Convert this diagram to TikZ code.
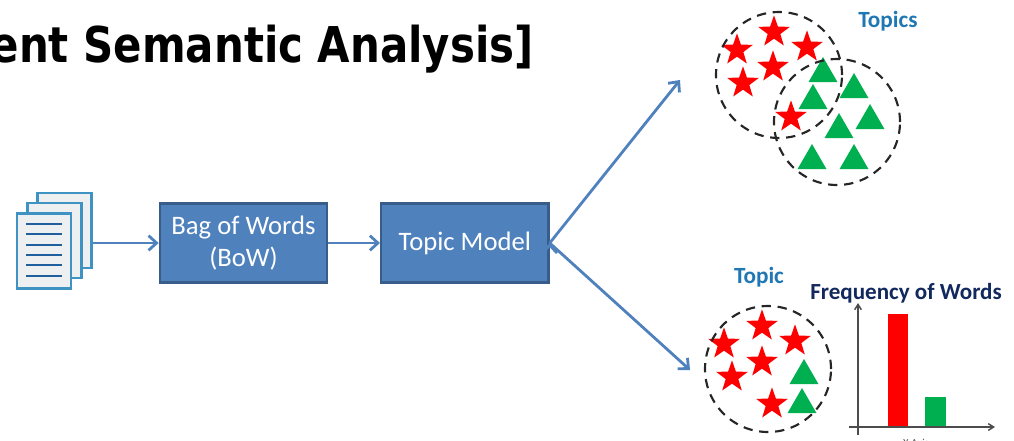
\documentclass[tikz,border=0pt]{standalone}
\usepackage{fontspec}
\setmainfont{Carlito}
\newfontfamily\headfont[FakeStretch=0.85]{DejaVu Sans}
\usetikzlibrary{positioning,shapes.geometric,arrows.meta}

\definecolor{boxblue}{HTML}{4F81BD}
\definecolor{boxedge}{HTML}{385D8A}
\definecolor{labelblue}{HTML}{1F77B4}
\definecolor{navy}{HTML}{12295E}
\definecolor{markgreen}{HTML}{00B050}
\definecolor{pagefill}{HTML}{EDEFF1}
\definecolor{pageedge}{HTML}{3F93C2}
\definecolor{pageline}{HTML}{1F5F9E}

\tikzset{
  model/.style={draw=boxedge,line width=1.8pt,fill=boxblue,text=white,align=center,
    minimum width=125.5pt,minimum height=59pt,inner sep=0pt,font=\fontsize{20}{23.5}\selectfont},
  page/.style={draw=pageedge,line width=1.8pt,fill=pagefill,minimum width=40.5pt,minimum height=56pt,inner sep=0pt},
  cluster/.style={circle,draw=black!85,line width=1.6pt,dash pattern=on 7pt off 5pt,minimum size=94.5pt,inner sep=0pt},
  redstar/.style={star,star points=5,star point ratio=2.5,fill=red,minimum size=25pt,inner sep=0pt},
  greentri/.style={regular polygon,regular polygon sides=3,fill=markgreen,minimum size=25pt,inner sep=0pt},
  tag/.style={text=labelblue,font=\fontsize{17.4}{20}\selectfont\bfseries,inner sep=0pt},
  flow/.style={-{Straight Barb[length=6pt,width=11pt]},draw=boxblue,line width=2.1pt},
  axis/.style={-{Straight Barb[length=4pt,width=5pt]},draw=black!70,line width=1.1pt}
}

\begin{document}
\begin{tikzpicture}[x=.75pt,y=-.75pt,node distance=166pt,on grid]
  \useasboundingbox (0,0) rectangle (1014,440);

  \node[anchor=base east,inner sep=0pt,font=\headfont\bfseries\fontsize{37}{44}\selectfont] (title) at (534,62) {ent Semantic Analysis]};

  % document stack
  \node[page] (page3) at (64.5,230.5) {};
  \node[page] (page2) at (54.5,240.5) {};
  \node[page] (page1) at (44,251) {};
  \foreach \y in {224,234,245,255,265,276}
    \draw[pageline,line width=1.9pt] (26,\y) -- (62,\y);

  \node[model] (bow) at (243.5,243) {Bag of Words\\(BoW)};
  \node[model] (tm)  [right =of bow] {Topic Model};

  \coordinate (topicsend) at (680,80);
  \coordinate (topicend)  at (690,370);
  \path[flow]
    (page3.east |- bow) edge (bow.west)
    (bow.east) edge (tm.west)
    (tm.east)  edge (topicsend)
    (tm.east)  edge (topicend);

  % topics
  \foreach \x/\y [count=\i] in {774/32,737/50,807/47,773/67,743/83,791/117}
    \node[redstar] (s\i) at (\x,\y) {};
  \foreach \x/\y [count=\i] in {823/57,813/84,854/73,870/104,839/113,812/144,854/144}
    \node[greentri,yshift=-12.5pt] (g\i) at (\x,\y) {};
  \node[cluster] (c1) at (779,75) {};
  \node[cluster] (c2) at (837,122) {};
  \node[tag] (topics) at (888,21) {Topics};

  % topic and its words
  \foreach \x/\y [count=\i] in {762/326,724/344,795/341,762/362,732/377,772/404}
    \node[redstar] (t\i) at (\x,\y) {};
  \foreach \x/\y [count=\i] in {804/359,802/388}
    \node[greentri,yshift=-12.5pt] (u\i) at (\x,\y) {};
  \node[cluster] (c3) at (768,369) {};
  \node[tag] (topic) at (759,277) {Topic};

  \fill[red] (888,314) rectangle (908,427);
  \fill[markgreen] (925,397) rectangle (946,427);
  \coordinate (yfoot) at (858,435);
  \coordinate (ytop)  at (858,303);
  \coordinate (xfoot) at (849,427);
  \coordinate (xtop)  at (995,427);
  \draw[axis] (yfoot) -- (ytop);
  \draw[axis] (xfoot) -- (xtop);
  \node[text=navy,inner sep=0pt,font=\fontsize{17.3}{20}\selectfont\bfseries] (freq) at (906,293) {Frequency of Words};
  \node[text=black!70,inner sep=0pt,font=\fontsize{8}{10}\selectfont] (xaxis) at (916,443) {X-Axis};
\end{tikzpicture}
\end{document}
